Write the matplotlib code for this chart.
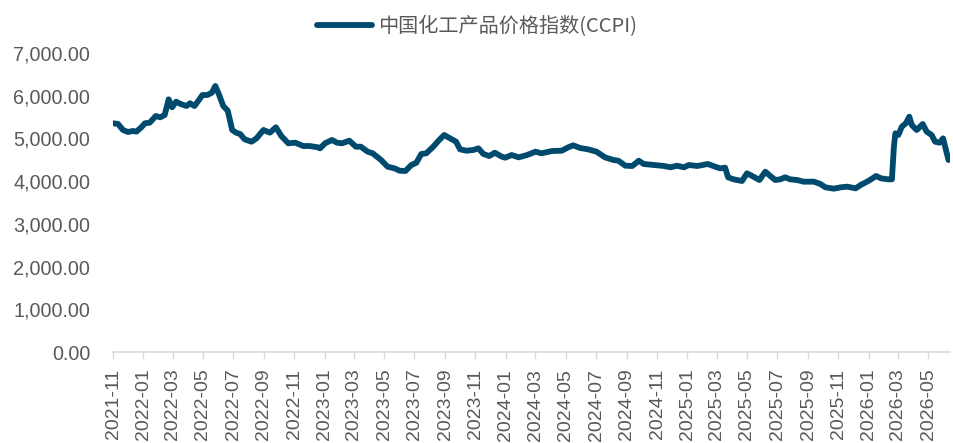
import matplotlib
matplotlib.use("Agg")
import matplotlib.pyplot as plt
import matplotlib.dates as mdates
import matplotlib.ticker as mticker
import pandas as pd

plt.rcParams['font.family'] = ['Liberation Sans', 'Noto Sans CJK SC']

series_name = "中国化工产品价格指数(CCPI)"

dates = [
    "2021-11-01", "2021-11-11", "2021-11-21", "2021-12-01", "2021-12-11", "2021-12-18",
    "2021-12-28", "2022-01-04", "2022-01-14", "2022-01-26", "2022-02-04", "2022-02-13",
    "2022-02-21", "2022-02-28", "2022-03-08", "2022-03-17", "2022-03-29", "2022-04-05",
    "2022-04-14", "2022-04-24", "2022-04-30", "2022-05-10", "2022-05-19", "2022-05-26",
    "2022-06-02", "2022-06-11", "2022-06-20", "2022-06-29", "2022-07-07", "2022-07-15",
    "2022-07-24", "2022-08-07", "2022-08-17", "2022-08-31", "2022-09-13", "2022-09-25",
    "2022-10-06", "2022-10-20", "2022-11-03", "2022-11-19", "2022-12-02", "2022-12-19",
    "2022-12-23", "2023-01-02", "2023-01-16", "2023-01-26", "2023-02-05", "2023-02-20",
    "2023-03-05", "2023-03-15", "2023-03-29", "2023-04-08", "2023-04-25", "2023-05-08",
    "2023-05-22", "2023-06-01", "2023-06-13", "2023-06-25", "2023-07-05", "2023-07-15",
    "2023-07-25", "2023-08-08", "2023-08-20", "2023-08-30", "2023-09-11", "2023-09-23",
    "2023-10-01", "2023-10-14", "2023-10-28", "2023-11-07", "2023-11-17", "2023-11-29",
    "2023-12-10", "2023-12-24", "2023-12-31", "2024-01-13", "2024-01-27", "2024-02-13",
    "2024-03-01", "2024-03-13", "2024-04-03", "2024-04-23", "2024-05-06", "2024-05-16",
    "2024-05-30", "2024-06-15", "2024-07-02", "2024-07-19", "2024-08-05", "2024-08-15",
    "2024-08-29", "2024-09-12", "2024-09-25", "2024-10-05", "2024-10-25", "2024-11-15",
    "2024-11-28", "2024-12-11", "2024-12-25", "2025-01-04", "2025-01-21", "2025-02-11",
    "2025-02-28", "2025-03-08", "2025-03-18", "2025-03-24", "2025-04-04", "2025-04-21",
    "2025-05-01", "2025-05-14", "2025-05-26", "2025-06-07", "2025-06-17", "2025-06-27",
    "2025-07-07", "2025-07-17", "2025-07-27", "2025-08-10", "2025-08-23", "2025-09-13",
    "2025-09-26", "2025-10-06", "2025-10-23", "2025-11-06", "2025-11-19", "2025-12-06",
    "2025-12-16", "2025-12-29", "2026-01-09", "2026-01-16", "2026-01-26", "2026-02-09",
    "2026-02-17", "2026-02-21", "2026-02-24", "2026-03-02", "2026-03-09", "2026-03-17",
    "2026-03-24", "2026-03-29", "2026-04-08", "2026-04-20", "2026-04-28", "2026-05-08",
    "2026-05-15", "2026-05-24", "2026-05-31", "2026-06-06", "2026-06-11",
]

ccpi = [
    5354, 5340, 5198, 5151, 5175, 5160,
    5261, 5354, 5370, 5526, 5495, 5549,
    5916, 5729, 5861, 5807, 5760, 5823,
    5760, 5916, 6017, 6017, 6071, 6228,
    6041, 5760, 5650, 5198, 5135, 5104,
    4980, 4924, 5003, 5198, 5135, 5261,
    5057, 4886, 4901, 4823, 4823, 4792,
    4769, 4886, 4964, 4901, 4886, 4948,
    4807, 4807, 4690, 4652, 4495, 4339,
    4300, 4245, 4238, 4378, 4432, 4636,
    4652, 4807, 4964, 5081, 5003, 4924,
    4745, 4713, 4730, 4769, 4636, 4589,
    4667, 4574, 4550, 4612, 4558, 4612,
    4690, 4652, 4706, 4713, 4792, 4839,
    4776, 4745, 4690, 4558, 4495, 4479,
    4362, 4355, 4479, 4402, 4378, 4355,
    4324, 4362, 4324, 4378, 4355, 4402,
    4330, 4300, 4316, 4090, 4043, 4004,
    4184, 4105, 4027, 4222, 4121, 4027,
    4043, 4090, 4043, 4027, 3988, 3988,
    3933, 3856, 3824, 3856, 3871, 3832,
    3910, 3988, 4066, 4121, 4066, 4043,
    4043, 4807, 5120, 5081, 5275, 5354,
    5510, 5315, 5198, 5338, 5159, 5081,
    4924, 4901, 5003, 4730, 4495,
]

y_ticks = [0, 1000, 2000, 3000, 4000, 5000, 6000, 7000]

line_color = "#004A6E"
text_color = "#595959"
axis_color = "#D9D9D9"

x = pd.to_datetime(dates)

fig = plt.figure(figsize=(9.54, 4.43), dpi=100)
ax = fig.add_axes([0.1185, 0.2054, 0.8773, 0.6749])

ax.plot(x, ccpi, color=line_color, linewidth=4.2, solid_joinstyle="round",
        solid_capstyle="round", label=series_name)

ax.set_ylim(y_ticks[0], y_ticks[-1])
ax.set_yticks(y_ticks)
ax.yaxis.set_major_formatter(mticker.FuncFormatter(lambda v, p: f"{v:,.2f}"))
ax.set_xlim(pd.Timestamp("2021-11-01"), pd.Timestamp("2026-06-14"))
ax.xaxis.set_major_locator(mdates.MonthLocator(bymonth=[1, 3, 5, 7, 9, 11]))
ax.xaxis.set_major_formatter(mdates.DateFormatter("%Y-%m"))

for side in ("top", "right", "left"):
    ax.spines[side].set_visible(False)
ax.spines["bottom"].set_color(axis_color)
ax.spines["bottom"].set_linewidth(1.2)

ax.tick_params(axis="y", length=0, pad=16.5, labelsize=14.2, labelcolor=text_color)
ax.tick_params(axis="x", direction="out", length=5, width=1, color=axis_color,
               pad=7, labelsize=14, labelcolor=text_color, labelrotation=90)

fig.legend(loc="upper center", bbox_to_anchor=(0.5, 1.005), frameon=False,
           handlelength=2.7, handletextpad=0.3,
           prop={"family": ["Noto Sans CJK SC", "Liberation Sans"], "size": 14.5},
           labelcolor=text_color)

fig.savefig("out.png", dpi=100)
